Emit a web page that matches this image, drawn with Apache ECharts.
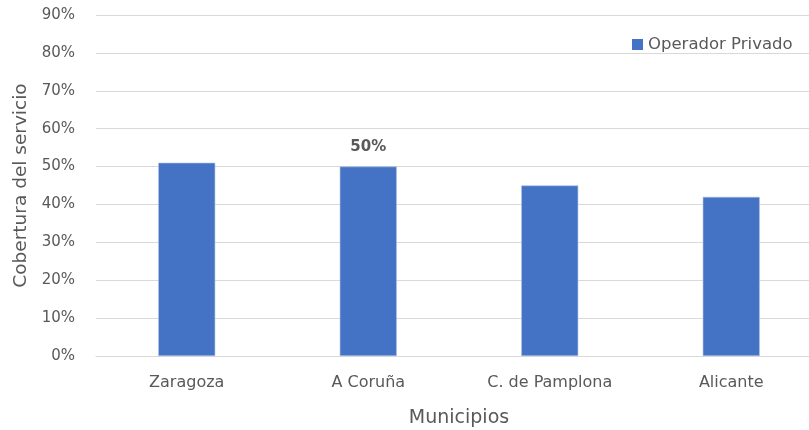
<!DOCTYPE html>
<html>
<head>
<meta charset="utf-8">
<script src="https://cdn.jsdelivr.net/npm/echarts@6/dist/echarts.min.js"></script>
<style>
  html, body { margin: 0; padding: 0; background: #ffffff; overflow: hidden; }
  #chart { width: 809px; height: 430px; overflow: hidden; }
</style>
</head>
<body>
<div id="chart"></div>
<script>
// Municipios y cobertura del servicio del operador privado (%)
const municipios = ['Zaragoza', 'A Coruña', 'C. de Pamplona', 'Alicante'];
const cobertura = [51, 50, 45, 42];
const serieNombre = 'Operador Privado';
const etiquetaVisible = [false, true, false, false];

const FONT = '"DejaVu Sans", Verdana, sans-serif';
const GREY = '#595959';

const chart = echarts.init(document.getElementById('chart'), null, { renderer: 'canvas', width: 809, height: 430 });
chart.setOption({
  animation: false,
  backgroundColor: '#ffffff',
  textStyle: { fontFamily: FONT },
  // fixed plot rectangle; it runs a little past the right edge of the canvas
  grid: { left: 96, top: 15, width: 726, height: 341, outerBoundsMode: 'none', containLabel: false },
  legend: {
    data: [serieNombre],
    left: 627,
    top: 31,
    itemWidth: 11,
    itemHeight: 11,
    itemGap: 6,
    icon: 'rect',
    itemStyle: { borderWidth: 0 },
    textStyle: { color: GREY, fontSize: 16.5, fontFamily: FONT }
  },
  xAxis: {
    type: 'category',
    data: municipios,
    name: 'Municipios',
    nameLocation: 'middle',
    nameGap: 53,
    nameTextStyle: { color: GREY, fontSize: 19, fontFamily: FONT },
    axisLine: { show: true, lineStyle: { color: '#d9d9d9', width: 1 } },
    axisTick: { show: false },
    axisLabel: { color: GREY, fontSize: 16, margin: 19, fontFamily: FONT }
  },
  yAxis: {
    type: 'value',
    min: 0,
    max: 90,
    interval: 10,
    name: 'Cobertura del servicio',
    nameLocation: 'middle',
    nameGap: 60,
    nameTextStyle: { color: GREY, fontSize: 18.5, fontFamily: FONT },
    axisLine: { show: false },
    axisTick: { show: false },
    axisLabel: { color: GREY, fontSize: 15, margin: 21, formatter: '{value}%', fontFamily: FONT },
    splitLine: { lineStyle: { color: '#d9d9d9', width: 1 } }
  },
  series: [{
    name: serieNombre,
    type: 'bar',
    barWidth: 57,
    data: cobertura.map((v, i) => ({
      value: v,
      label: {
        show: etiquetaVisible[i],
        position: 'top',
        distance: 12,
        formatter: '{c}%',
        color: GREY,
        fontSize: 15,
        fontWeight: 'bold',
        fontFamily: FONT
      }
    })),
    itemStyle: { color: '#4472C4', borderColor: '#a9bfe6', borderWidth: 0.6 }
  }]
});
</script>
</body>
</html>
